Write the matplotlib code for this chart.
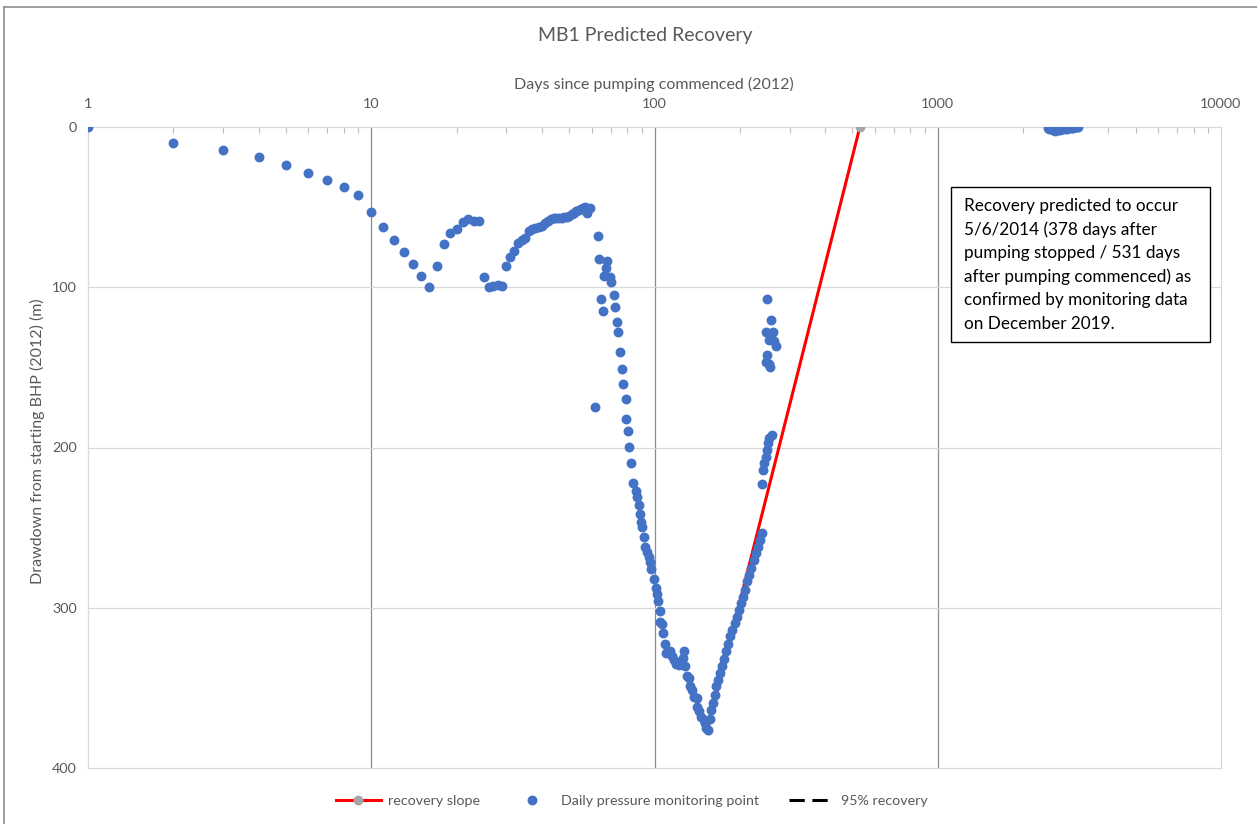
import matplotlib
matplotlib.use("Agg")
import matplotlib.pyplot as plt
from matplotlib.lines import Line2D
from matplotlib.patches import Rectangle
from matplotlib.ticker import LogLocator, NullFormatter

plt.rcParams['font.family'] = ['Lato', 'DejaVu Sans']

# Daily pressure monitoring: days since pumping commenced vs drawdown (m)
monitor_days = [
    1, 2, 3, 4, 5, 6, 7, 8, 9, 10, 11, 12, 13, 14, 15, 16, 17, 18, 19, 20,
    21, 22, 23, 24, 25, 26, 27, 28, 29, 30, 31, 32, 33, 34, 35, 36, 37, 38,
    39, 40, 41, 42, 43, 44, 45, 46, 47, 48, 49, 50, 51, 52, 53, 54, 55, 56,
    57, 58, 59,
    61.9, 63, 63.5, 64.6, 65.6, 66.5, 67.5, 68, 69.5, 70.5, 72, 72.6, 73.7,
    74.4, 75.6, 76.8, 77.7, 79, 79.5, 80.9, 81.6, 82.9, 84, 85.8, 86.7, 87.9,
    88.7, 89.4, 90.6, 91.6, 92.5, 94.4, 95.4, 96.5, 97, 99.5, 100.9, 101.8,
    103, 104.6, 104.9, 106, 107.5, 109.2, 109.8, 113.2, 115, 117, 119.3,
    122.4, 126.6, 126.2, 128.3, 130, 132.4, 133.5, 135.4, 138, 141.7, 141,
    143.7, 146.5, 149, 151, 151.9, 154.5,
    157, 158.5, 160.7, 163, 165.5, 168, 170.5, 173.3, 176, 178.9, 182, 185.2,
    188.4, 191.7, 195, 198.4, 201.8, 205.3, 208.9, 212.5, 216.2, 220, 223.8,
    227.7, 231.6, 235.6, 239.7,
    240, 241.9, 244.3, 246.8, 249.4, 252, 254.6, 259,
    248.7, 257.4, 246.8, 262, 253.9, 264, 269, 250.5, 247.7, 255.2, 253,
    2450, 2480, 2520, 2560, 2600, 2650, 2700, 2750, 2800, 2850, 2900, 2950,
    3000, 3050, 3100, 3120,
]
monitor_drawdown = [
    0, 9.8, 14.3, 18.7, 23.9, 28.9, 32.9, 37.4, 42.6, 52.8, 62.4, 70.5, 77.8,
    85.5, 93.1, 100, 86.7, 73.2, 66.3, 63.6, 59.3, 57.6, 58.8, 58.5, 93.6,
    99.8, 99, 98.8, 99, 86.7, 81.1, 77.2, 72.2, 70.5, 69.4, 65.1, 63.8, 63,
    62.5, 61.5, 60, 58.5, 57.5, 57, 56.8, 56.6, 56.5, 56.3, 56, 55.3, 54.3,
    53.5, 52.5, 51.5, 51, 50.5, 50.2, 53.8, 50.5,
    174.5, 68, 82.2, 107.5, 114.8, 93.1, 88.1, 83.8, 93.8, 96.5, 104.6, 112.2,
    121.8, 127.7, 140.6, 150.8, 160.3, 169.9, 182, 189.6, 199.8, 209.6, 222.3,
    226.9, 230.6, 235.8, 241.8, 246.8, 249.3, 255.9, 261.8, 264.9, 268.4,
    271.2, 275.9, 282.2, 287.8, 291.5, 295.5, 301.9, 308.6, 310.2, 315.6,
    322.9, 328.3, 327.3, 329.8, 332.5, 334.8, 336, 327.3, 331.2, 336.6, 342.9,
    343.9, 348.7, 351.2, 355.8, 356.4, 362, 364.3, 368.3, 370.3, 372, 375.1,
    376.2,
    369.5, 363.7, 359.5, 354.3, 349.1, 345, 340.8, 336.6, 331.9, 327.3, 322.5,
    317.9, 313.8, 309.6, 305.5, 301.3, 297.1, 293, 288.8, 283.6, 279.5, 275.3,
    270.1, 265.9, 261.8, 257.6, 253.5,
    223, 214, 209.8, 205.7, 201.5, 197.4, 194.2, 192.1,
    107.3, 120.4, 127.7, 128.1, 132.9, 133.7, 136.4, 142.2, 146.4, 149.5, 147.9,
    0.5, 1, 1.5, 2, 2.2, 2, 1.8, 1.5, 1.3, 1.1, 0.9, 0.7, 0.5, 0.3, 0.2, 0,
]

# Predicted recovery slope, from the deepest drawdown to full recovery
slope_days = [154, 531]
slope_drawdown = [376, 0]

x_ticks = [1, 10, 100, 1000, 10000]
y_ticks = [0, 100, 200, 300, 400]

box_lines = [
    "Recovery predicted to occur",
    "5/6/2014 (378 days after",
    "pumping stopped / 531 days",
    "after pumping commenced) as",
    "confirmed by monitoring data",
    "on December 2019.",
]

GREY_TXT = '#595959'
W, H = 1257, 825

fig = plt.figure(figsize=(W / 100, H / 100), dpi=100)
ax = fig.add_axes([88 / W, 57 / H, 1133 / W, 641 / H])

ax.set_xscale('log')
ax.set_xlim(x_ticks[0], x_ticks[-1])
ax.set_ylim(y_ticks[-1], y_ticks[0])

# gridlines: dark verticals at each decade, light horizontals
for v in x_ticks[1:-1]:
    ax.axvline(v, color='#8c8c8c', lw=0.9, zorder=1)
for h in y_ticks[1:-1]:
    ax.axhline(h, color='#d9d9d9', lw=0.9, zorder=1)
for s in ax.spines.values():
    s.set_color('#d9d9d9')
    s.set_linewidth(0.9)

ax.plot(slope_days, slope_drawdown, color='#ff0000', lw=2.2, marker='o',
        ms=6, mfc='#a5a5a5', mec='#a5a5a5', zorder=3, label='recovery slope')
ax.plot(monitor_days, monitor_drawdown, 'o', ls='none', color='#4472c4',
        ms=6.1, zorder=4, label='Daily pressure monitoring point')
ax.plot([], [], color='black', lw=2.2, ls=(0, (5, 2.5)), label='95% recovery')

ax.xaxis.tick_top()
ax.set_xticks(x_ticks, labels=[str(t) for t in x_ticks])
ax.xaxis.set_minor_locator(LogLocator(base=10, subs=range(2, 10)))
ax.xaxis.set_minor_formatter(NullFormatter())
ax.tick_params(axis='x', which='major', length=0, pad=12, labelsize=10.4,
               labelcolor=GREY_TXT)
ax.tick_params(axis='x', which='minor', top=True, bottom=False, direction='in',
               length=4, width=0.8, color='#bfbfbf')
ax.set_yticks(y_ticks, labels=[str(t) for t in y_ticks])
ax.tick_params(axis='y', length=0, pad=8, labelsize=10.4, labelcolor=GREY_TXT)

fig.text(645 / W, 1 - 36 / H, "MB1 Predicted Recovery", ha='center',
         va='center', fontsize=14, color=GREY_TXT)
fig.text(654 / W, 1 - 84 / H, "Days since pumping commenced (2012)",
         ha='center', va='center', fontsize=11.5, color=GREY_TXT)
fig.text(37 / W, 1 - 441 / H, "Drawdown from starting BHP (2012) (m)",
         ha='center', va='center', rotation=90, fontsize=11.5, color=GREY_TXT)

# annotation box
fig.patches.append(Rectangle((951 / W, 1 - 342 / H), 259 / W, 155 / H,
                             transform=fig.transFigure, facecolor='white',
                             edgecolor='black', lw=1.0, zorder=5))
for i, line in enumerate(box_lines):
    fig.text(964 / W, 1 - (206 + i * 23.6) / H, line, ha='left', va='center',
             fontsize=12.3, color='black', zorder=6)

# chart area border
fig.add_artist(Line2D([4 / W, 4 / W], [2 / H, 1 - 7 / H], color='#8c8c8c', lw=1.2))
fig.add_artist(Line2D([4 / W, 1], [1 - 7 / H, 1 - 7 / H], color='#8c8c8c', lw=1.2))

fig.legend(loc='center', bbox_to_anchor=(632 / W, 1 - 801 / H), ncol=3,
           frameon=False, fontsize=10.3, labelcolor=GREY_TXT, handlelength=3.1,
           handletextpad=0.5, columnspacing=2.1, numpoints=1)

fig.savefig('out.png', dpi=100)
